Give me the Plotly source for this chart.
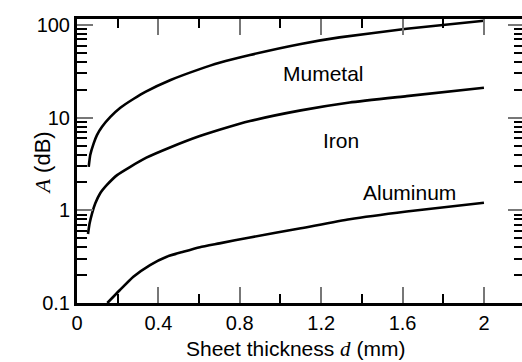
import plotly.graph_objects as go

# Sheet thickness d (mm) and absorption loss A (dB)
mumetal_d = [0.0575, 0.065, 0.082, 0.098, 0.123, 0.164, 0.213, 0.279, 0.336, 0.46, 0.60, 0.70, 0.85, 1.10, 1.29, 1.62, 2.0]
mumetal_a = [2.95, 3.95, 5.28, 6.49, 7.98, 10.2, 12.8, 16.0, 19.0, 25.5, 33.2, 39.1, 47.5, 62.5, 73.5, 91.0, 111]

iron_d = [0.054, 0.062, 0.074, 0.090, 0.114, 0.147, 0.197, 0.262, 0.341, 0.46, 0.60, 0.70, 0.85, 1.10, 1.34, 1.62, 2.0]
iron_a = [0.555, 0.724, 0.929, 1.19, 1.53, 1.88, 2.40, 2.95, 3.70, 4.8, 6.3, 7.4, 9.2, 12.0, 14.6, 17.1, 21.0]

alum_d = [0.149, 0.211, 0.277, 0.359, 0.441, 0.522, 0.604, 0.70, 0.85, 1.10, 1.34, 1.62, 2.0]
alum_a = [0.10, 0.138, 0.192, 0.257, 0.316, 0.357, 0.40, 0.44, 0.51, 0.64, 0.80, 0.97, 1.21]

x_tickvals = [0, 0.4, 0.8, 1.2, 1.6, 2.0]
x_ticktext = ["0", "0.4", "0.8", "1.2", "1.6", "2"]
x_minor = [0.2, 0.6, 1.0, 1.4, 1.8]
y_tickvals = [0.1, 1, 10, 100]
y_ticktext = ["0.1", "1", "10", "100"]
y_minor = [m * 10 ** e for e in (-1, 0, 1) for m in range(2, 10)]

labels = [("Mumetal", 1.21, 1.481), ("Iron", 1.297, 0.758), ("Aluminum", 1.636, 0.19)]

fig = go.Figure()
for d, a in [(mumetal_d, mumetal_a), (iron_d, iron_a), (alum_d, alum_a)]:
    fig.add_trace(go.Scatter(x=d, y=a, mode="lines",
                             line=dict(color="black", width=2.6, shape="spline", smoothing=0.5),
                             showlegend=False, hoverinfo="skip"))
fig.add_trace(go.Scatter(x=[None], y=[None], yaxis="y2", showlegend=False, hoverinfo="skip"))

font = "Liberation Sans, Arial, Helvetica, sans-serif"
yr = [-1, 2.065]
for text, x, y in labels:
    fig.add_annotation(x=x, y=y, text=text, showarrow=False,
                       font=dict(family=font, size=21, color="black"))

serif_i = "<span style=\"font-family:'Liberation Serif';font-style:italic\">%s</span>"
fig.add_annotation(xref="paper", yref="paper", x=0.492, y=0, yanchor="middle", yshift=-46,
                   text="Sheet thickness " + serif_i % "d" + " (mm)", showarrow=False,
                   font=dict(family=font, size=21, color="black"))
fig.add_annotation(xref="paper", yref="paper", x=0, xshift=-49, y=0.493, textangle=-90,
                   text=serif_i % "A" + " (dB)", showarrow=False,
                   font=dict(family=font, size=22, color="black"))

fig.update_layout(
    width=522, height=362,
    margin=dict(l=77, r=0, t=19, b=59),
    paper_bgcolor="white", plot_bgcolor="white",
    font=dict(family=font, size=20, color="black"),
    xaxis=dict(range=[0, 2.187], showgrid=False, zeroline=False, automargin=False,
               showline=True, linecolor="black", linewidth=3, mirror="ticks",
               tickmode="array", tickvals=x_tickvals, ticktext=x_ticktext,
               ticks="inside", ticklen=16, tickwidth=1.5, tickcolor="#777",
               minor=dict(tickmode="array", tickvals=x_minor, ticks="inside",
                          ticklen=9, tickwidth=1.5, tickcolor="black"),
               tickfont=dict(size=20)),
    yaxis=dict(type="log", range=yr, showgrid=False, zeroline=False, automargin=False,
               showline=True, linecolor="black", linewidth=3,
               tickmode="array", tickvals=y_tickvals, ticktext=y_ticktext,
               ticks="inside", ticklen=16, tickwidth=1.5, tickcolor="#777",
               minor=dict(tickmode="array", tickvals=y_minor, ticks="inside",
                          ticklen=10, tickwidth=1.5, tickcolor="black"),
               tickfont=dict(size=20)),
    yaxis2=dict(type="log", range=yr, overlaying="y", side="right", anchor="x",
                showgrid=False, zeroline=False, showline=False, showticklabels=False,
                automargin=False,
                tickmode="array", tickvals=y_tickvals,
                ticks="inside", ticklen=14, tickwidth=1.5, tickcolor="#777",
                minor=dict(tickmode="array", tickvals=y_minor, ticks="inside",
                           ticklen=8, tickwidth=1.5, tickcolor="black")),
)

fig.write_html("out.html", config={"displayModeBar": False},
               post_script="document.body.style.margin='0';document.body.style.overflow='hidden';")
